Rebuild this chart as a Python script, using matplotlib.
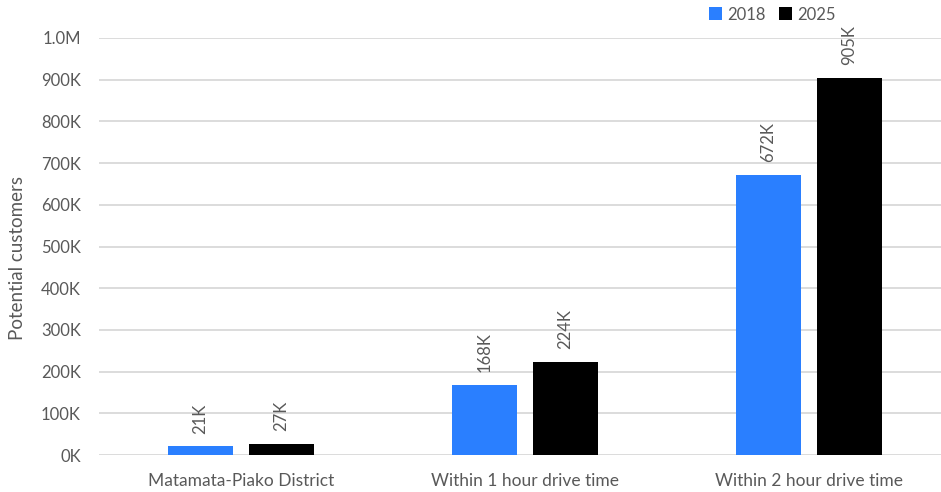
import matplotlib.pyplot as plt
import numpy as np
from matplotlib.ticker import FuncFormatter

categories = ["Matamata-Piako District",
              "Within 1 hour drive time",
              "Within 2 hour drive time"]
years = ["2018", "2025"]
values_2018 = [21000, 168000, 672000]
values_2025 = [27000, 224000, 905000]

colors = ["#2A7FFF", "#000000"]
text_color = "#595959"
grid_color = "#D9D9D9"

plt.rcParams["font.family"] = ["Lato", "DejaVu Sans"]

fig = plt.figure(figsize=(9.41, 4.92), dpi=100)
ax = fig.add_axes([99 / 941, 37 / 492, 852 / 941, 417 / 492])

x = np.arange(len(categories))
width = 0.229
offset = 0.143

for i, (vals, year) in enumerate(zip([values_2018, values_2025], years)):
    pos = x + (-offset if i == 0 else offset)
    bars = ax.bar(pos, vals, width, color=colors[i], label=year, zorder=3)
    for b, v in zip(bars, vals):
        ax.annotate(f"{v / 1000:.0f}K",
                    (b.get_x() + b.get_width() / 2, b.get_height()),
                    xytext=(0, 9), textcoords="offset points",
                    rotation=90, ha="center", va="bottom",
                    fontsize=12, color=text_color)

def fmt(v, pos):
    if v >= 1e6:
        return f"{v / 1e6:.1f}M"
    return f"{v / 1000:.0f}K"

ax.set_ylim(0, 1000000)
ax.set_yticks(np.arange(0, 1000001, 100000))
ax.yaxis.set_major_formatter(FuncFormatter(fmt))
ax.set_xlim(-0.5, 2.5)
ax.set_xticks(x, labels=categories)

ax.grid(axis="y", color=grid_color, linewidth=1.3, zorder=0)
for s in ax.spines.values():
    s.set_visible(False)
ax.tick_params(axis="y", length=0, labelsize=12, colors=text_color, pad=13)
ax.tick_params(axis="x", length=0, labelsize=12.5, colors=text_color, pad=13)

fig.text(18 / 941, 1 - 258 / 492, "Potential customers", rotation=90,
         ha="center", va="center", fontsize=13.5, color=text_color)

ax.legend(loc="upper left", bbox_to_anchor=(702 / 941, 1.0),
          bbox_transform=fig.transFigure, ncol=2, frameon=False,
          fontsize=12, handlelength=0.8, handleheight=0.8,
          handletextpad=0.3, columnspacing=0.8, labelcolor=text_color,
          borderaxespad=0.0, borderpad=0.4)

fig.savefig("out.png", dpi=100)
